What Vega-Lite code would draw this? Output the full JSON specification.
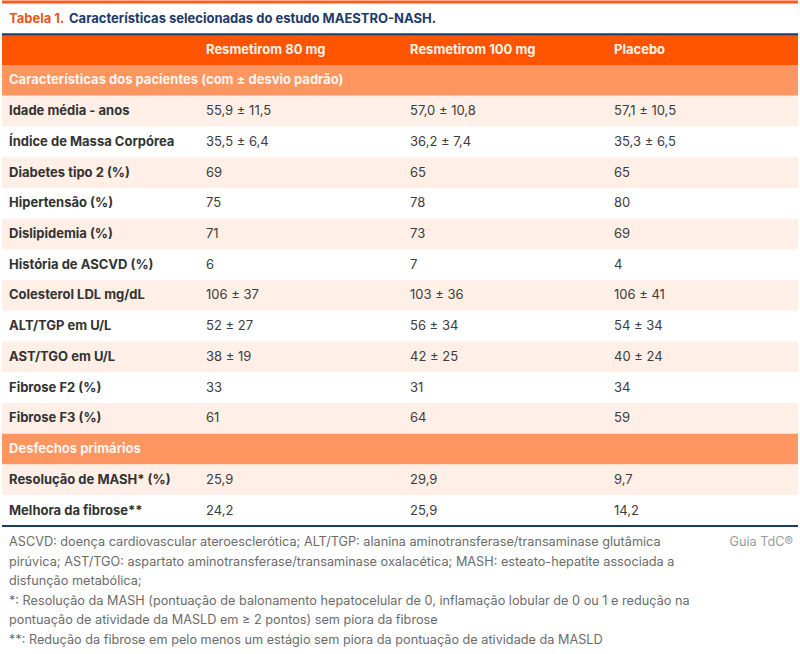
{
  "$schema": "https://vega.github.io/schema/vega-lite/v6.json",
  "width": 800,
  "height": 654,
  "autosize": {"type": "fit", "contains": "padding"},
  "padding": 0,
  "background": "#ffffff",
  "config": {"view": {"stroke": null}, "font": "Inter"},
  "datasets": {
    "faixas": [
      {"r": 0, "tipo": "titulo"}, {"r": 1, "tipo": "cabecalho"}, {"r": 2, "tipo": "secao"},
      {"r": 3, "tipo": "clara"}, {"r": 4, "tipo": "branca"}, {"r": 5, "tipo": "clara"},
      {"r": 6, "tipo": "branca"}, {"r": 7, "tipo": "clara"}, {"r": 8, "tipo": "branca"},
      {"r": 9, "tipo": "clara"}, {"r": 10, "tipo": "branca"}, {"r": 11, "tipo": "clara"},
      {"r": 12, "tipo": "branca"}, {"r": 13, "tipo": "clara"}, {"r": 14, "tipo": "secao"},
      {"r": 15, "tipo": "clara"}, {"r": 16, "tipo": "branca"}
    ],
    "tabela": [
      {"r": 1, "tipo": "cabecalho", "rotulo": "", "a80": "Resmetirom 80 mg", "a100": "Resmetirom 100 mg", "pl": "Placebo"},
      {"r": 2, "tipo": "secao", "rotulo": "Características dos pacientes (com ± desvio padrão)", "a80": "", "a100": "", "pl": ""},
      {"r": 3, "tipo": "dado", "rotulo": "Idade média - anos", "a80": "55,9 ± 11,5", "a100": "57,0 ± 10,8", "pl": "57,1 ± 10,5"},
      {"r": 4, "tipo": "dado", "rotulo": "Índice de Massa Corpórea", "a80": "35,5 ± 6,4", "a100": "36,2 ± 7,4", "pl": "35,3 ± 6,5"},
      {"r": 5, "tipo": "dado", "rotulo": "Diabetes tipo 2 (%)", "a80": "69", "a100": "65", "pl": "65"},
      {"r": 6, "tipo": "dado", "rotulo": "Hipertensão (%)", "a80": "75", "a100": "78", "pl": "80"},
      {"r": 7, "tipo": "dado", "rotulo": "Dislipidemia (%)", "a80": "71", "a100": "73", "pl": "69"},
      {"r": 8, "tipo": "dado", "rotulo": "História de ASCVD (%)", "a80": "6", "a100": "7", "pl": "4"},
      {"r": 9, "tipo": "dado", "rotulo": "Colesterol LDL mg/dL", "a80": "106 ± 37", "a100": "103 ± 36", "pl": "106 ± 41"},
      {"r": 10, "tipo": "dado", "rotulo": "ALT/TGP em U/L", "a80": "52 ± 27", "a100": "56 ± 34", "pl": "54 ± 34"},
      {"r": 11, "tipo": "dado", "rotulo": "AST/TGO em U/L", "a80": "38 ± 19", "a100": "42 ± 25", "pl": "40 ± 24"},
      {"r": 12, "tipo": "dado", "rotulo": "Fibrose F2 (%)", "a80": "33", "a100": "31", "pl": "34"},
      {"r": 13, "tipo": "dado", "rotulo": "Fibrose F3 (%)", "a80": "61", "a100": "64", "pl": "59"},
      {"r": 14, "tipo": "secao", "rotulo": "Desfechos primários", "a80": "", "a100": "", "pl": ""},
      {"r": 15, "tipo": "dado", "rotulo": "Resolução de MASH* (%)", "a80": "25,9", "a100": "29,9", "pl": "9,7"},
      {"r": 16, "tipo": "dado", "rotulo": "Melhora da fibrose**", "a80": "24,2", "a100": "25,9", "pl": "14,2"}
    ],
    "notas": [
      {"n": 0, "texto": "ASCVD: doença cardiovascular ateroesclerótica; ALT/TGP: alanina aminotransferase/transaminase glutâmica"},
      {"n": 1, "texto": "pirúvica; AST/TGO: aspartato aminotransferase/transaminase oxalacética; MASH: esteato-hepatite associada a"},
      {"n": 2, "texto": "disfunção metabólica;"},
      {"n": 3, "texto": "*: Resolução da MASH (pontuação de balonamento hepatocelular de 0, inflamação lobular de 0 ou 1 e redução na"},
      {"n": 4, "texto": "pontuação de atividade da MASLD em ≥ 2 pontos) sem piora da fibrose"},
      {"n": 5, "texto": "**: Redução da fibrose em pelo menos um estágio sem piora da pontuação de atividade da MASLD"}
    ]
  },
  "resolve": {"scale": {"x": "independent", "y": "independent", "color": "independent", "fill": "independent"}},
  "layer": [
    {
      "data": {"name": "faixas"},
      "mark": {"type": "rect"},
      "encoding": {
        "y": {"field": "r", "type": "ordinal", "axis": null,
              "scale": {"domain": [0,1,2,3,4,5,6,7,8,9,10,11,12,13,14,15,16], "range": [1.5, 524], "paddingInner": 0, "paddingOuter": 0}},
        "fill": {"field": "tipo", "type": "nominal", "legend": null,
                 "scale": {"domain": ["titulo", "cabecalho", "secao", "clara", "branca"],
                           "range": ["#ffffff", "#ff5500", "#ff9561", "#ffefe6", "#ffffff"]}}
      }
    },
    {
      "data": {"values": [{"linha": "topo"}]},
      "mark": {"type": "rule", "color": "#ff5a1a", "strokeWidth": 3},
      "encoding": {"y": {"value": 0}}
    },
    {
      "data": {"values": [{"r": 1}]},
      "mark": {"type": "rule", "color": "#1d3c63", "strokeWidth": 2},
      "encoding": {
        "y": {"field": "r", "type": "ordinal", "bandPosition": 0, "axis": null,
              "scale": {"domain": [0,1,2,3,4,5,6,7,8,9,10,11,12,13,14,15,16], "range": [1.5, 524], "paddingInner": 0, "paddingOuter": 0}}
      }
    },
    {
      "data": {"values": [{"r": 16}]},
      "mark": {"type": "rule", "color": "#1d3c63", "strokeWidth": 2},
      "encoding": {
        "y": {"field": "r", "type": "ordinal", "bandPosition": 1, "axis": null,
              "scale": {"domain": [0,1,2,3,4,5,6,7,8,9,10,11,12,13,14,15,16], "range": [1.5, 524], "paddingInner": 0, "paddingOuter": 0}}
      }
    },
    {
      "data": {"values": [{"r": 0, "texto": "Tabela 1."}]},
      "mark": {"type": "text", "align": "left", "baseline": "middle", "fontSize": 13, "fontWeight": "bold", "color": "#e8561c"},
      "encoding": {
        "x": {"value": 7},
        "y": {"field": "r", "type": "ordinal", "axis": null,
              "scale": {"domain": [0,1,2,3,4,5,6,7,8,9,10,11,12,13,14,15,16], "range": [1.5, 524], "paddingInner": 0, "paddingOuter": 0}},
        "text": {"field": "texto"}
      }
    },
    {
      "data": {"values": [{"r": 0, "texto": "Características selecionadas do estudo MAESTRO-NASH."}]},
      "mark": {"type": "text", "align": "left", "baseline": "middle", "fontSize": 13, "fontWeight": "bold", "color": "#1e3a6a"},
      "encoding": {
        "x": {"value": 67},
        "y": {"field": "r", "type": "ordinal", "axis": null,
              "scale": {"domain": [0,1,2,3,4,5,6,7,8,9,10,11,12,13,14,15,16], "range": [1.5, 524], "paddingInner": 0, "paddingOuter": 0}},
        "text": {"field": "texto"}
      }
    },
    {
      "data": {"name": "tabela"},
      "transform": [{"filter": "datum.tipo == 'dado'"}],
      "mark": {"type": "text", "align": "left", "baseline": "middle", "fontSize": 13, "fontWeight": "bold", "color": "#333333"},
      "encoding": {
        "x": {"value": 7},
        "y": {"field": "r", "type": "ordinal", "axis": null,
              "scale": {"domain": [0,1,2,3,4,5,6,7,8,9,10,11,12,13,14,15,16], "range": [1.5, 524], "paddingInner": 0, "paddingOuter": 0}},
        "text": {"field": "rotulo"}
      }
    },
    {
      "data": {"name": "tabela"},
      "transform": [{"filter": "datum.tipo == 'secao'"}],
      "mark": {"type": "text", "align": "left", "baseline": "middle", "fontSize": 13, "fontWeight": "bold", "color": "#fff6f0"},
      "encoding": {
        "x": {"value": 7},
        "y": {"field": "r", "type": "ordinal", "axis": null,
              "scale": {"domain": [0,1,2,3,4,5,6,7,8,9,10,11,12,13,14,15,16], "range": [1.5, 524], "paddingInner": 0, "paddingOuter": 0}},
        "text": {"field": "rotulo"}
      }
    },
    {
      "data": {"name": "tabela"},
      "transform": [{"filter": "datum.tipo == 'cabecalho'"}, {"fold": ["a80", "a100", "pl"], "as": ["coluna", "valor"]}],
      "mark": {"type": "text", "align": "left", "baseline": "middle", "fontSize": 13, "fontWeight": "bold", "color": "#fff3ec"},
      "encoding": {
        "x": {"field": "coluna", "type": "nominal", "axis": null,
              "scale": {"type": "point", "domain": ["a80", "a100", "pl"], "range": [204, 612], "padding": 0}},
        "y": {"field": "r", "type": "ordinal", "axis": null,
              "scale": {"domain": [0,1,2,3,4,5,6,7,8,9,10,11,12,13,14,15,16], "range": [1.5, 524], "paddingInner": 0, "paddingOuter": 0}},
        "text": {"field": "valor"}
      }
    },
    {
      "data": {"name": "tabela"},
      "transform": [{"filter": "datum.tipo == 'dado'"}, {"fold": ["a80", "a100", "pl"], "as": ["coluna", "valor"]}],
      "mark": {"type": "text", "align": "left", "baseline": "middle", "fontSize": 13, "fontWeight": "normal", "color": "#3d3d3d"},
      "encoding": {
        "x": {"field": "coluna", "type": "nominal", "axis": null,
              "scale": {"type": "point", "domain": ["a80", "a100", "pl"], "range": [204, 612], "padding": 0}},
        "y": {"field": "r", "type": "ordinal", "axis": null,
              "scale": {"domain": [0,1,2,3,4,5,6,7,8,9,10,11,12,13,14,15,16], "range": [1.5, 524], "paddingInner": 0, "paddingOuter": 0}},
        "text": {"field": "valor"}
      }
    },
    {
      "data": {"name": "notas"},
      "mark": {"type": "text", "align": "left", "baseline": "middle", "fontSize": 12.7, "color": "#6b6b6b"},
      "encoding": {
        "x": {"value": 7},
        "y": {"field": "n", "type": "ordinal", "axis": null,
              "scale": {"type": "point", "domain": [0,1,2,3,4,5], "range": [540, 638], "padding": 0}},
        "text": {"field": "texto"}
      }
    },
    {
      "data": {"values": [{"n": 0, "texto": "Guia TdC®"}]},
      "mark": {"type": "text", "align": "right", "baseline": "middle", "fontSize": 12.7, "color": "#9a9a9a"},
      "encoding": {
        "x": {"value": 791},
        "y": {"field": "n", "type": "ordinal", "axis": null,
              "scale": {"type": "point", "domain": [0,1,2,3,4,5], "range": [540, 638], "padding": 0}},
        "text": {"field": "texto"}
      }
    }
  ]
}
